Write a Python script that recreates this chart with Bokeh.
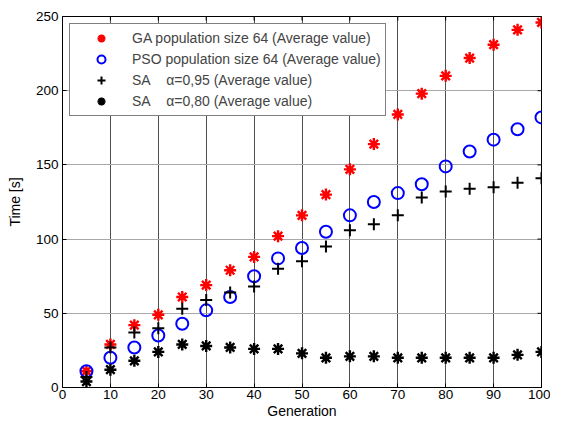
import math
from bokeh.plotting import figure
from bokeh.models import Range1d, Legend, LegendItem, FixedTicker
from bokeh.embed import file_html
from bokeh.resources import INLINE

generation = [5, 10, 15, 20, 25, 30, 35, 40, 45, 50, 55, 60, 65, 70, 75, 80, 85, 90, 95, 100]
ga_time = [11, 29, 42, 49, 61, 69, 79, 88, 102, 116, 130, 147, 164, 184, 198, 210, 222, 231, 241, 246]
pso_time = [11, 20, 27, 35, 43, 52, 61, 75, 87, 94, 105, 116, 125, 131, 137, 149, 159, 167, 174, 182]
sa95_time = [7, 27, 37, 40, 53, 59, 64, 68, 80, 85, 95, 106, 110, 116, 128, 132, 134, 135, 138, 141]
sa80_time = [4, 12, 18, 24, 29, 28, 27, 26, 26, 23, 20, 21, 21, 20, 20, 20, 20, 20, 22, 24]

x_ticks = [0, 10, 20, 30, 40, 50, 60, 70, 80, 90, 100]
y_ticks = [0, 50, 100, 150, 200, 250]

labels = [
    "GA population size 64 (Average value)",
    "PSO population size 64 (Average value)",
    "SA\u00a0\u00a0\u00a0\u00a0\u03b1=0,95 (Average value)",
    "SA\u00a0\u00a0\u00a0\u00a0\u03b1=0,80 (Average value)",
]

FONT = "Liberation Sans"

p = figure(width=550, height=421, output_backend="svg", toolbar_location=None,
           x_range=Range1d(x_ticks[0], x_ticks[-1]), y_range=Range1d(y_ticks[0], y_ticks[-1]),
           min_border_left=62, min_border_right=9, min_border_top=16, min_border_bottom=10)
p.background_fill_color = "white"
p.border_fill_color = "white"
p.outline_line_color = "black"
p.outline_line_width = 1

for ax in (p.xaxis[0], p.yaxis[0]):
    ax.major_tick_in = 4
    ax.major_tick_out = 0
    ax.minor_tick_in = 0
    ax.minor_tick_out = 0
    ax.major_label_text_font = FONT
    ax.major_label_text_font_size = "13.5px"
    ax.major_label_text_color = "black"
    ax.axis_label_text_font = FONT
    ax.axis_label_text_font_size = "14px"
    ax.axis_label_text_font_style = "normal"
    ax.axis_label_text_color = "black"
    ax.axis_line_color = "black"
    ax.major_tick_line_color = "black"

p.xaxis[0].ticker = FixedTicker(ticks=x_ticks)
p.yaxis[0].ticker = FixedTicker(ticks=y_ticks)
p.xaxis[0].axis_label = "Generation"
p.yaxis[0].axis_label = "Time [s]"
p.xaxis[0].major_label_standoff = 2
p.xaxis[0].axis_label_standoff = 1
p.yaxis[0].major_label_standoff = 4
p.yaxis[0].axis_label_standoff = 10

p.xgrid.ticker = FixedTicker(ticks=x_ticks)
p.ygrid.ticker = FixedTicker(ticks=y_ticks)
p.xgrid.grid_line_color = "#505050"
p.ygrid.grid_line_color = "#a8a8a8"
p.xgrid.grid_line_width = 1
p.ygrid.grid_line_width = 1

# inward tick marks on the top and right edges of the box (outer half is clipped by the frame)
p.scatter(x_ticks, [y_ticks[-1]] * len(x_ticks), marker="dash", angle=math.pi / 2,
          size=8, line_color="black", line_width=1)
p.scatter([x_ticks[-1]] * len(y_ticks), y_ticks, marker="dash", size=8,
          line_color="black", line_width=1)

r_ga = p.scatter(generation, ga_time, marker="asterisk", size=12, line_color="red", line_width=2.4)
r_pso = p.scatter(generation, pso_time, marker="circle", size=12, line_color="blue",
                  fill_color=None, line_width=2)
r_sa95 = p.scatter(generation, sa95_time, marker="cross", size=12, line_color="black", line_width=2)
r_sa80 = p.scatter(generation, sa80_time, marker="asterisk", size=12, line_color="black", line_width=2.4)

legend = Legend(items=[
    LegendItem(label=labels[0], renderers=[r_ga]),
    LegendItem(label=labels[1], renderers=[r_pso]),
    LegendItem(label=labels[2], renderers=[r_sa95]),
    LegendItem(label=labels[3], renderers=[r_sa80]),
], location="top_left",
    margin=7, padding=4, spacing=1,
    glyph_width=54, glyph_height=20, label_height=20, label_standoff=4,
    label_text_font=FONT, label_text_font_size="14px",
    border_line_color="black", border_line_width=1,
    background_fill_color="white", background_fill_alpha=1)
p.add_layout(legend)

open("out.html", "w").write(file_html(p, INLINE))
